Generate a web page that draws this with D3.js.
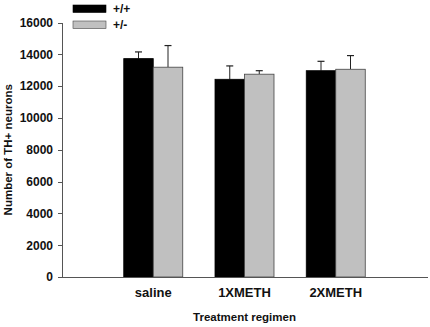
<!DOCTYPE html>
<html>
<head>
<meta charset="utf-8">
<title>TH+ neurons by treatment</title>
<style>
  body { margin: 0; background: #fff; }
  svg text { font-family: "Liberation Sans", Arial, sans-serif; font-weight: bold; fill: #111; }
  .axis path, .axis line { stroke: #555; shape-rendering: crispEdges; }
</style>
<script src="https://d3js.org/d3.v7.min.js"></script>
</head>
<body>
<script>
// data
var categories = ["saline", "1XMETH", "2XMETH"];
var genotypes = ["+/+", "+/-"];
var wildtype = [13730, 12430, 12970];
var wildtypeErr = [420, 840, 590];
var hetero = [13190, 12750, 13060];
var heteroErr = [1360, 220, 860];
var yTicks = [0, 2000, 4000, 6000, 8000, 10000, 12000, 14000, 16000];

var W = 430, H = 327;
var margin = {top: 22.5, right: 3, bottom: 50, left: 62};
var width = W - margin.left - margin.right,
    height = H - margin.top - margin.bottom;

var svg = d3.select("body").append("svg")
  .attr("width", W).attr("height", H);
var g = svg.append("g")
  .attr("transform", "translate(" + margin.left + "," + margin.top + ")");

// groups sit at 1,2,3 on a 0..4 axis
var x = d3.scaleLinear().domain([0, categories.length + 1]).range([0, width]);
var y = d3.scaleLinear().domain([0, 16000]).range([height, 0]);
var barW = 29.5;

var series = [
  {name: genotypes[0], vals: wildtype, err: wildtypeErr, fill: "#000", stroke: "#000", off: -1},
  {name: genotypes[1], vals: hetero, err: heteroErr, fill: "#c0c0c0", stroke: "#444", off: 0}
];

series.forEach(function (s) {
  var rows = categories.map(function (c, i) { return {i: i, v: s.vals[i], e: s.err[i]}; });
  var cx = function (d) { return x(d.i + 1) + s.off * barW + barW / 2; };

  // error bars (upper only)
  g.selectAll(null).data(rows).enter().append("line")
    .attr("x1", cx).attr("x2", cx)
    .attr("y1", function (d) { return y(d.v); })
    .attr("y2", function (d) { return y(d.v + d.e); })
    .attr("stroke", "#222").attr("stroke-width", 1);
  g.selectAll(null).data(rows).enter().append("line")
    .attr("x1", function (d) { return cx(d) - 3.5; })
    .attr("x2", function (d) { return cx(d) + 3.5; })
    .attr("y1", function (d) { return y(d.v + d.e); })
    .attr("y2", function (d) { return y(d.v + d.e); })
    .attr("stroke", "#222").attr("stroke-width", 1.2);

  g.selectAll(null).data(rows).enter().append("rect")
    .attr("x", function (d) { return x(d.i + 1) + s.off * barW; })
    .attr("y", function (d) { return y(d.v); })
    .attr("width", barW)
    .attr("height", function (d) { return height - y(d.v); })
    .attr("fill", s.fill)
    .attr("stroke", s.stroke).attr("stroke-width", 0.8);
});

// axes
var yAxis = g.append("g").attr("class", "axis")
  .call(d3.axisLeft(y).tickValues(yTicks).tickFormat(d3.format("d"))
    .tickSize(4).tickPadding(5).tickSizeOuter(0));
yAxis.selectAll("text").style("font-size", "12px").attr("fill", "#111");

var xAxis = g.append("g").attr("class", "axis")
  .attr("transform", "translate(0," + height + ")")
  .call(d3.axisBottom(x).tickValues([]).tickSizeOuter(0));

g.selectAll(".xlab").data(categories).enter().append("text")
  .attr("class", "xlab")
  .attr("x", function (d, i) { return x(i + 1); })
  .attr("y", height + 20)
  .attr("text-anchor", "middle")
  .style("font-size", "13px")
  .text(function (d) { return d; });

svg.append("text")
  .attr("x", margin.left + x(2)).attr("y", 321)
  .attr("text-anchor", "middle")
  .style("font-size", "11.5px")
  .text("Treatment regimen");

svg.append("text")
  .attr("transform", "translate(12," + (margin.top + height / 2) + ") rotate(-90)")
  .attr("text-anchor", "middle")
  .style("font-size", "11.5px")
  .text("Number of TH+ neurons");

// legend
var legend = svg.selectAll(".leg").data(series).enter().append("g")
  .attr("class", "leg")
  .attr("transform", function (d, i) { return "translate(73," + (5 + i * 16) + ")"; });
legend.append("rect")
  .attr("width", 33).attr("height", 7.5)
  .attr("fill", function (d) { return d.fill; })
  .attr("stroke", function (d) { return d.stroke; }).attr("stroke-width", 0.6);
legend.append("text")
  .attr("x", 40).attr("y", 8)
  .style("font-size", "12px")
  .text(function (d) { return d.name; });
</script>
</body>
</html>
